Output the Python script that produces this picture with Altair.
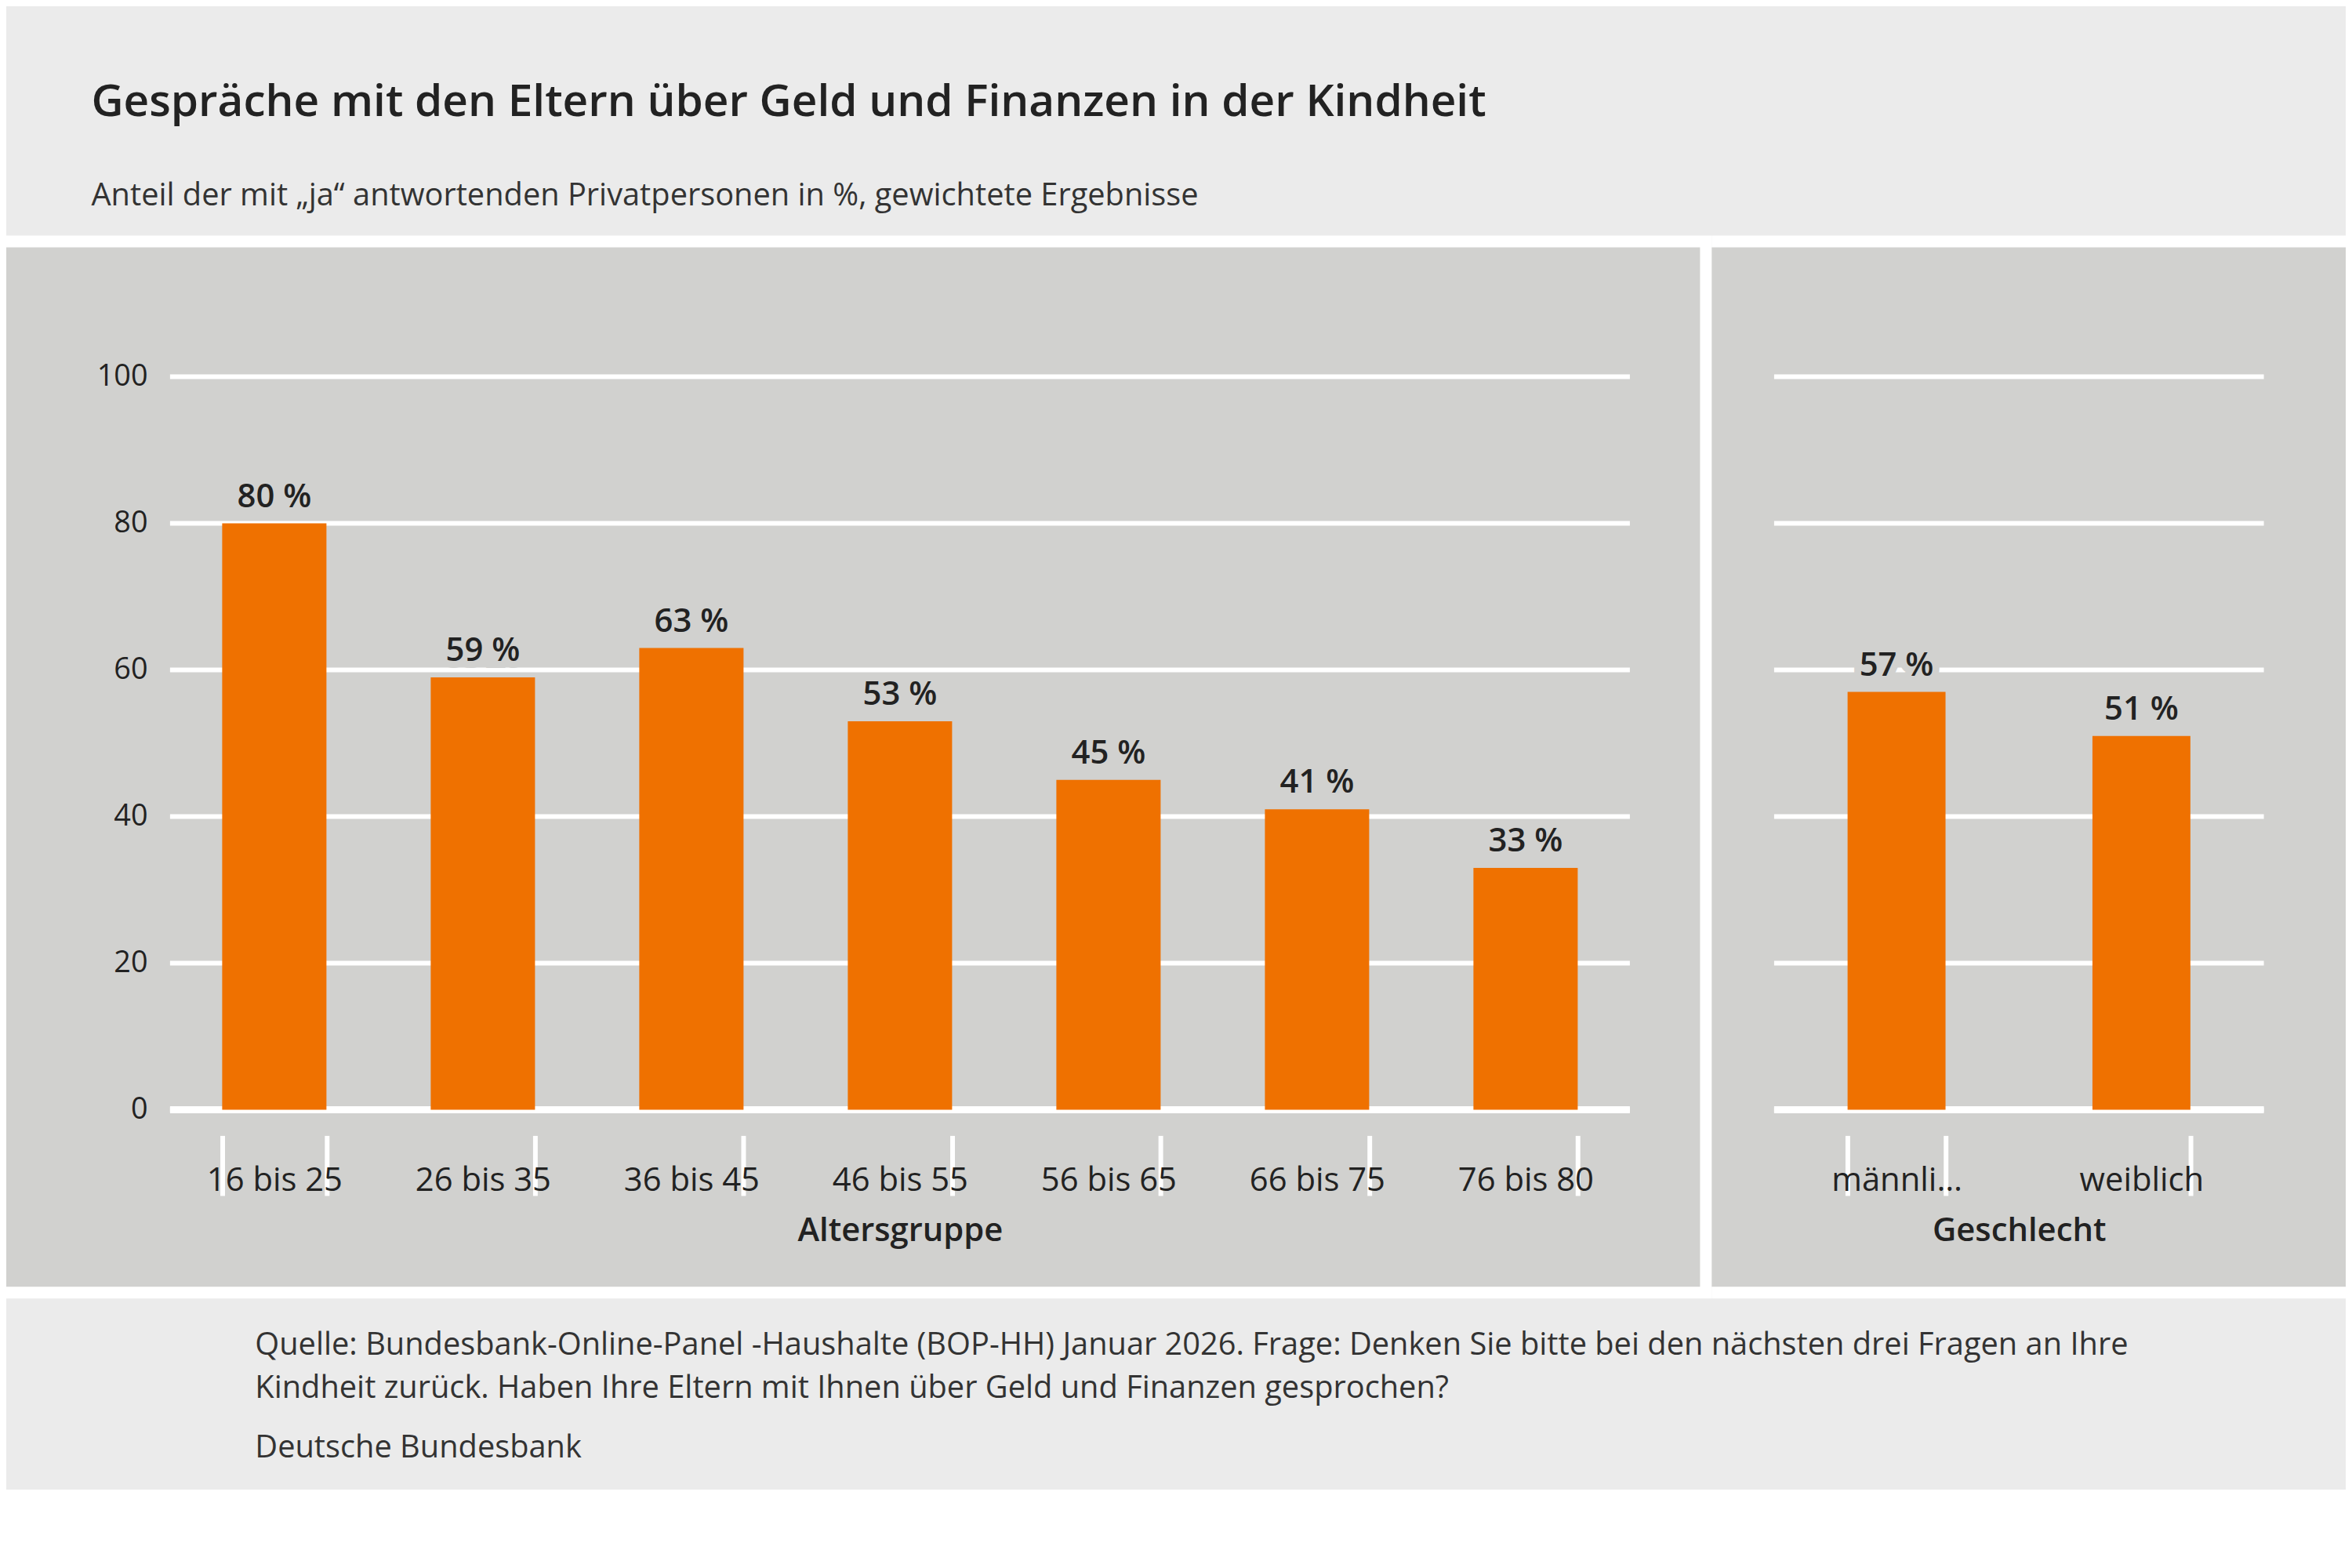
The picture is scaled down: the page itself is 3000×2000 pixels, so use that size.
import altair as alt
import pandas as pd

ages = ["16 bis 25", "26 bis 35", "36 bis 45", "46 bis 55", "56 bis 65", "66 bis 75", "76 bis 80"]
age_vals = [80, 59, 63, 53, 45, 41, 33]
sexes = ["männlich", "weiblich"]
sex_vals = [57, 51]
ticks = [0, 20, 40, 60, 80, 100]

title = "Gespräche mit den Eltern über Geld und Finanzen in der Kindheit"
subtitle = "Anteil der mit „ja“ antwortenden Privatpersonen in %, gewichtete Ergebnisse"
footer1 = ("Quelle: Bundesbank-Online-Panel -Haushalte (BOP-HH) Januar 2026. Frage: Denken Sie bitte bei den nächsten drei Fragen an Ihre\n"
           "Kindheit zurück. Haben Ihre Eltern mit Ihnen über Geld und Finanzen gesprochen?")
footer2 = "Deutsche Bundesbank"

FONT = "Open Sans"
ORANGE = "#ef7100"
PANEL = "#d1d1cf"
BG = "#ebebeb"
H = 940

df_age = pd.DataFrame({"g": ages, "v": age_vals, "lab": [f"{v} %" for v in age_vals]})
df_sex = pd.DataFrame({"g": sexes, "v": sex_vals, "lab": [f"{v} %" for v in sex_vals]})
df_grid = pd.DataFrame({"v": ticks})
one = pd.DataFrame({"a": [0]})


def panel(df, order, xtitle, width, pad_in, pad_out, x0, x1, x1white, show_y):
    white = alt.Chart(one).mark_rect(color="white").encode(
        x=alt.value(x0), x2=alt.value(x1white), y=alt.value(-181), y2=alt.value(1182))
    grey = alt.Chart(one).mark_rect(color=PANEL).encode(
        x=alt.value(x0), x2=alt.value(x1), y=alt.value(-166), y2=alt.value(1167))
    ysc = alt.Scale(domain=[0, 100])
    if show_y:
        yaxis = alt.Axis(values=ticks, grid=False, ticks=False, domain=False, title=None,
                         labelFontSize=38, labelFont=FONT, labelColor="#222", labelPadding=29,
                         zindex=1)
    else:
        yaxis = None
    grid = alt.Chart(df_grid).mark_rule(color="white", strokeWidth=6).encode(
        y=alt.Y("v:Q", scale=ysc, axis=yaxis))
    zero = alt.Chart(df_grid).transform_filter(alt.datum.v == 0).mark_rule(
        color="white", strokeWidth=9).encode(y=alt.Y("v:Q", scale=ysc))
    x = alt.X("g:N", sort=order,
              scale=alt.Scale(paddingInner=pad_in, paddingOuter=pad_out),
              axis=alt.Axis(title=xtitle, tickBand="extent", offset=33, tickSize=77,
                            tickColor="white", tickWidth=6, domain=False, labelAngle=0,
                            labelPadding=-39, labelFontSize=42, labelFont=FONT,
                            labelColor="#222", labelFontWeight=500,
                            titleFontSize=42, titleFont=FONT, titleFontWeight=600,
                            titleColor="#222", titlePadding=22, zindex=1, grid=False))
    y = alt.Y("v:Q", scale=ysc)
    bars = alt.Chart(df).mark_bar(color=ORANGE).encode(x=x, y=y)
    halo = alt.Chart(df).mark_text(baseline="bottom", dy=-12, fontSize=42, font=FONT,
                                   fontWeight=600, color=PANEL, stroke=PANEL,
                                   strokeWidth=18).encode(x=x, y=y, text="lab:N")
    txt = alt.Chart(df).mark_text(baseline="bottom", dy=-12, fontSize=42, font=FONT,
                                  fontWeight=600, color="#222").encode(x=x, y=y, text="lab:N")
    return alt.layer(white, grey, grid, zero, bars, halo, txt).properties(width=width, height=H)


left = panel(df_age, ages, "Altersgruppe", 1872, 0.5, 0.25, -210, 1962, 1977, True)
right = panel(df_sex, sexes, "Geschlecht", 628, 0.6, 0.3, -80, 733, 733, False)

body = alt.hconcat(left, right, spacing=0)

df_foot = pd.DataFrame({"t": [footer1, footer2], "k": [0, 1]})
foot_a = alt.Chart(df_foot).transform_filter(alt.datum.k == 0).mark_text(
    align="left", baseline="top", fontSize=40, font=FONT, color="#333", lineHeight=55,
    lineBreak="\n").encode(x=alt.value(109), y=alt.value(0), text="t:N")
foot_b = alt.Chart(df_foot).transform_filter(alt.datum.k == 1).mark_text(
    align="left", baseline="top", fontSize=40, font=FONT, color="#333"
).encode(x=alt.value(109), y=alt.value(132), text="t:N")
footer = alt.layer(foot_a, foot_b).properties(width=10, height=200)

chart = alt.vconcat(body, footer, spacing=40).properties(
    title=alt.TitleParams(text=title, subtitle=subtitle, anchor="start", dx=109,
                          fontSize=57, fontWeight=600, font=FONT, color="#222",
                          subtitleFontSize=40, subtitleFont=FONT, subtitleColor="#333",
                          subtitlePadding=70, offset=30),
    padding={"top": 90, "left": 0, "right": 0, "bottom": 0},
    background=BG,
).configure_view(stroke=None)

chart.save("out.html", embed_options={"renderer": "svg", "actions": False})
